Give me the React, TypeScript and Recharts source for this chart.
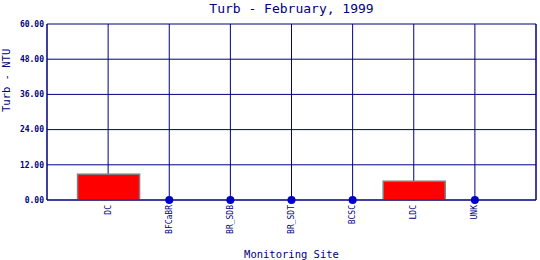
import { Bar, CartesianGrid, ComposedChart, ReferenceLine, Scatter, XAxis, YAxis, Label } from "recharts"

const sites = ["DC", "BFCaBR", "BR_SDB", "BR_SDT", "BCSC", "LDC", "UNK"]
const turb = [8.8, 0, 0, 0, 0, 6.4, 0]
const yTicks = [0, 12, 24, 36, 48, 60]

const data = sites.map((site, i) => ({
  x: i + 1,
  site,
  turb: turb[i] > 0 ? turb[i] : null,
}))
const zeroPoints = sites
  .map((site, i) => ({ x: i + 1, site, dot: turb[i] }))
  .filter((d) => d.dot === 0)

const navy = "#000080"
const font = "'DejaVu Sans Mono', 'Liberation Mono', monospace"

function SiteTick(props: any) {
  const { x, y, payload } = props
  return (
    <text
      x={x}
      y={y}
      transform={`rotate(-90, ${x}, ${y})`}
      textAnchor="end"
      dominantBaseline="central"
      fill={navy}
      fontSize={8}
      fontFamily={font}
    >
      {sites[payload.value - 1]}
    </text>
  )
}

// wide box centred on the site position
function SiteBar(props: any) {
  const { x, y, width, height } = props
  if (!height) return null
  const w = 62
  return (
    <rect
      x={x + width / 2 - w / 2}
      y={y}
      width={w}
      height={height}
      fill="#ff0000"
      stroke="#808080"
      strokeWidth={1.5}
    />
  )
}

export default function App() {
  return (
    <div style={{ position: "absolute", left: 0, top: 0, background: "#fff" }}>
      <div
        style={{
          position: "absolute",
          top: 0,
          left: 47,
          width: 489,
          textAlign: "center",
          color: navy,
          fontFamily: font,
          fontSize: 13,
          lineHeight: "18px",
        }}
      >
        Turb - February, 1999
      </div>
      <ComposedChart width={540} height={260} margin={{ top: 24, right: 4, bottom: 0, left: 0 }} data={data}>
        <CartesianGrid stroke={navy} strokeWidth={1} />
        <XAxis
          dataKey="x"
          type="number"
          domain={[0, 8]}
          ticks={[1, 2, 3, 4, 5, 6, 7]}
          interval={0}
          height={60}
          tickSize={0}
          tickMargin={5}
          axisLine={{ stroke: navy }}
          tick={<SiteTick />}
        >
          <Label value="Monitoring Site" position="insideBottom" offset={2} fill={navy} fontSize={10.5} fontFamily={font} />
        </XAxis>
        <YAxis
          domain={[0, 60]}
          ticks={yTicks}
          width={47}
          tickSize={0}
          tickMargin={3}
          axisLine={{ stroke: navy }}
          tickFormatter={(v: number) => v.toFixed(2)}
          tick={{ fill: navy, fontSize: 8, fontFamily: font, fontWeight: "bold" }}
        >
          <Label value="Turb - NTU" angle={-90} position="insideLeft" offset={6} fill={navy} fontSize={10.5} fontFamily={font} />
        </YAxis>
        <ReferenceLine x={8} stroke={navy} />
        <Bar dataKey="turb" barSize={40} shape={<SiteBar />} isAnimationActive={false} />
        <Scatter
          data={zeroPoints}
          dataKey="dot"
          fill="#0000cc"
          isAnimationActive={false}
          shape={(p: any) => <circle cx={p.cx} cy={p.cy} r={4} fill="#0000cc" />}
        />
      </ComposedChart>
    </div>
  )
}
